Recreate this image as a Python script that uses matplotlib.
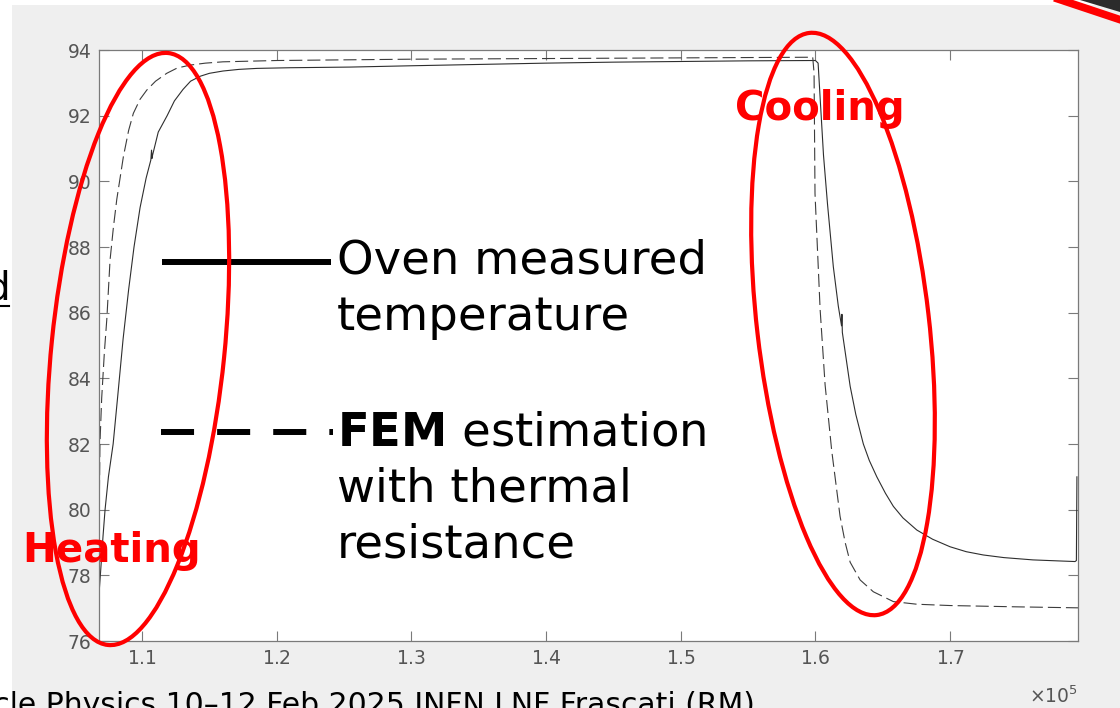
import numpy as np
import matplotlib
matplotlib.use("Agg")
import matplotlib.pyplot as plt
from matplotlib import transforms as mtransforms
from matplotlib.patches import Ellipse, Rectangle, Polygon
from matplotlib.lines import Line2D
from matplotlib.ticker import ScalarFormatter

W, H = 1120, 708

# oven measured temperature: time (x1e5 s) and temperature (degC)
meas_t = [1.0683, 1.0690, 1.0710, 1.0725, 1.0750, 1.0785, 1.0820, 1.0859,
          1.0900, 1.0940, 1.0985, 1.1030, 1.1065, 1.1070, 1.1074, 1.1078,
          1.1120, 1.1186, 1.1240, 1.1304, 1.1360, 1.1431, 1.1500, 1.1601,
          1.1720, 1.1854, 1.2100, 1.2545, 1.3000, 1.3500, 1.4000, 1.4500,
          1.5000, 1.5500, 1.6000, 1.6020, 1.6040, 1.6060, 1.6090, 1.6133,
          1.6170, 1.6194, 1.6197, 1.6200, 1.6258, 1.6300, 1.6356, 1.6400,
          1.6456, 1.6520, 1.6579, 1.6650, 1.6753, 1.6870, 1.7000, 1.7120,
          1.7247, 1.7400, 1.7616, 1.7800, 1.7928, 1.7938, 1.7942]
meas_T = [77.6, 78.0, 79.2, 80.0, 81.0, 82.0, 83.5, 85.2,
          86.7, 88.0, 89.2, 90.1, 90.65, 90.95, 90.7, 90.8,
          91.5, 92.0, 92.45, 92.8, 93.05, 93.2, 93.29, 93.36,
          93.41, 93.44, 93.46, 93.48, 93.52, 93.56, 93.60, 93.63,
          93.65, 93.67, 93.68, 93.60, 92.2, 90.8, 89.3, 87.4,
          86.2, 85.6, 85.95, 85.4, 83.76, 82.9, 82.0, 81.5,
          81.0, 80.5, 80.1, 79.75, 79.38, 79.1, 78.87, 78.72,
          78.62, 78.54, 78.47, 78.44, 78.42, 78.45, 81.0]

# FEM estimation with thermal resistance
fem_t = [1.0681, 1.0683, 1.0687, 1.0700, 1.0720, 1.0738, 1.0762, 1.0787,
         1.0812, 1.0861, 1.0900, 1.0935, 1.0985, 1.1035, 1.1100, 1.1183,
         1.1260, 1.1356, 1.1470, 1.1601, 1.2000, 1.2500, 1.3000, 1.4000,
         1.5000, 1.5980, 1.5990, 1.5997, 1.6035, 1.6072, 1.6121, 1.6183,
         1.6221, 1.6258, 1.6332, 1.6430, 1.6579, 1.6753, 1.7000, 1.7500,
         1.7950]
fem_T = [77.2, 80.5, 82.0, 83.4, 84.8, 85.8, 87.6, 88.6,
         89.45, 90.75, 91.55, 92.07, 92.5, 92.78, 93.05, 93.29,
         93.45, 93.54, 93.60, 93.64, 93.68, 93.70, 93.72, 93.74,
         93.76, 93.78, 93.3, 89.63, 86.1, 83.8, 81.8, 79.8,
         79.0, 78.4, 77.86, 77.5, 77.2, 77.12, 77.08, 77.04,
         77.01]

x_ticks = [1.1, 1.2, 1.3, 1.4, 1.5, 1.6, 1.7]
y_ticks = [76, 78, 80, 82, 84, 86, 88, 90, 92, 94]

plt.rcParams['font.family'] = ['DejaVu Sans']
plt.rcParams['mathtext.fontset'] = 'dejavusans'
plt.rcParams['lines.scale_dashes'] = False

fig = plt.figure(figsize=(W / 100, H / 100), dpi=100, facecolor='white')
# pixel coordinates measured from the top-left corner of the slide
px = mtransforms.Affine2D().scale(1 / W, -1 / H).translate(0, 1) + fig.transFigure

# grey slide panel behind the plot
fig.add_artist(Rectangle((12, 5), W - 12, H - 5, transform=px,
                         facecolor='#efefef', edgecolor='none', zorder=-5))

ax = fig.add_axes([99 / W, 1 - 641 / H, (1078 - 99) / W, (641 - 50) / H])
ax.set_facecolor('white')

ax.plot(np.array(meas_t) * 1e5, meas_T, color='#2e2e2e', lw=0.8)
ax.plot(np.array(fem_t) * 1e5, fem_T, color='#3c3c3c', lw=0.8, dashes=(9.4, 3.6))

ax.set_xlim(1.068e5, 1.795e5)
ax.set_ylim(76, 94)
ax.set_xticks(np.array(x_ticks) * 1e5)
ax.set_yticks(y_ticks)
fmt = ScalarFormatter(useMathText=True)
fmt.set_powerlimits((0, 0))
ax.xaxis.set_major_formatter(fmt)
# the exponent is written below the axis by hand
ax.xaxis.get_offset_text().set_visible(False)

for s in ax.spines.values():
    s.set_color('#7a7a7a')
    s.set_linewidth(0.9)
ax.tick_params(direction='in', length=7.2, width=0.8, color='#7a7a7a',
               labelcolor='#555555', labelsize=13.5, top=True, right=True)
ax.tick_params(axis='y', pad=5.5)
ax.tick_params(axis='x', pad=6)
fig.text(1078, 703, r'$\times10^{5}$', transform=px, fontsize=13.5,
         color='#555555', ha='right', va='baseline')

# hand-drawn legend on the slide
fig.add_artist(Line2D([162, 331], [262, 262], transform=px, color='black',
                      lw=4.3, solid_capstyle='butt', zorder=3))
fig.add_artist(Line2D([161, 333], [432, 432], transform=px, color='black',
                      lw=4.3, dashes=(23.8, 16.6), dash_capstyle='butt', zorder=3))
leg_kw = dict(transform=px, fontsize=33.5, color='black', va='baseline', ha='left')
fig.text(337, 273, 'Oven measured', **leg_kw)
fig.text(337, 330, 'temperature', **leg_kw)
fig.text(337, 445, r'$\mathbf{FEM}$ estimation', **leg_kw)
fig.text(337, 502, 'with thermal', **leg_kw)
fig.text(337, 558, 'resistance', **leg_kw)

# red call-outs
red_kw = dict(transform=px, fontsize=29, color='#ff0000', fontweight='bold',
              va='baseline', ha='left', zorder=6)
fig.text(22, 562, 'Heating', **red_kw)
fig.text(735, 120, 'Cooling', **red_kw)
fig.add_artist(Ellipse((138, 349), 173, 595, angle=5.8, transform=px,
                       fill=False, edgecolor='#ff0000', lw=3, zorder=5))
fig.add_artist(Ellipse((843, 324), 172, 586, angle=-6.6, transform=px,
                       fill=False, edgecolor='#ff0000', lw=3, zorder=5))

# bits of the surrounding slide
fig.add_artist(Polygon([(1080, 0), (1120, 0), (1120, 12)], transform=px,
                       facecolor='#2b2b2b', edgecolor='none', zorder=6))
fig.add_artist(Line2D([1052, 1124], [-3, 21], transform=px, color='#ff0000',
                      lw=5.5, zorder=7))
fig.text(10, 300, 'd', transform=px, fontsize=28, color='black', ha='right',
         va='baseline')
fig.add_artist(Line2D([0, 9], [306, 306], transform=px, color='black', lw=1.5))
fig.text(755, 714, 'Particle Physics 10\u201312 Feb 2025 INFN LNF Frascati (RM)',
         transform=px, fontsize=21.5, color='black', ha='right', va='baseline')

fig.savefig('out.png', dpi=100, facecolor=fig.get_facecolor())
